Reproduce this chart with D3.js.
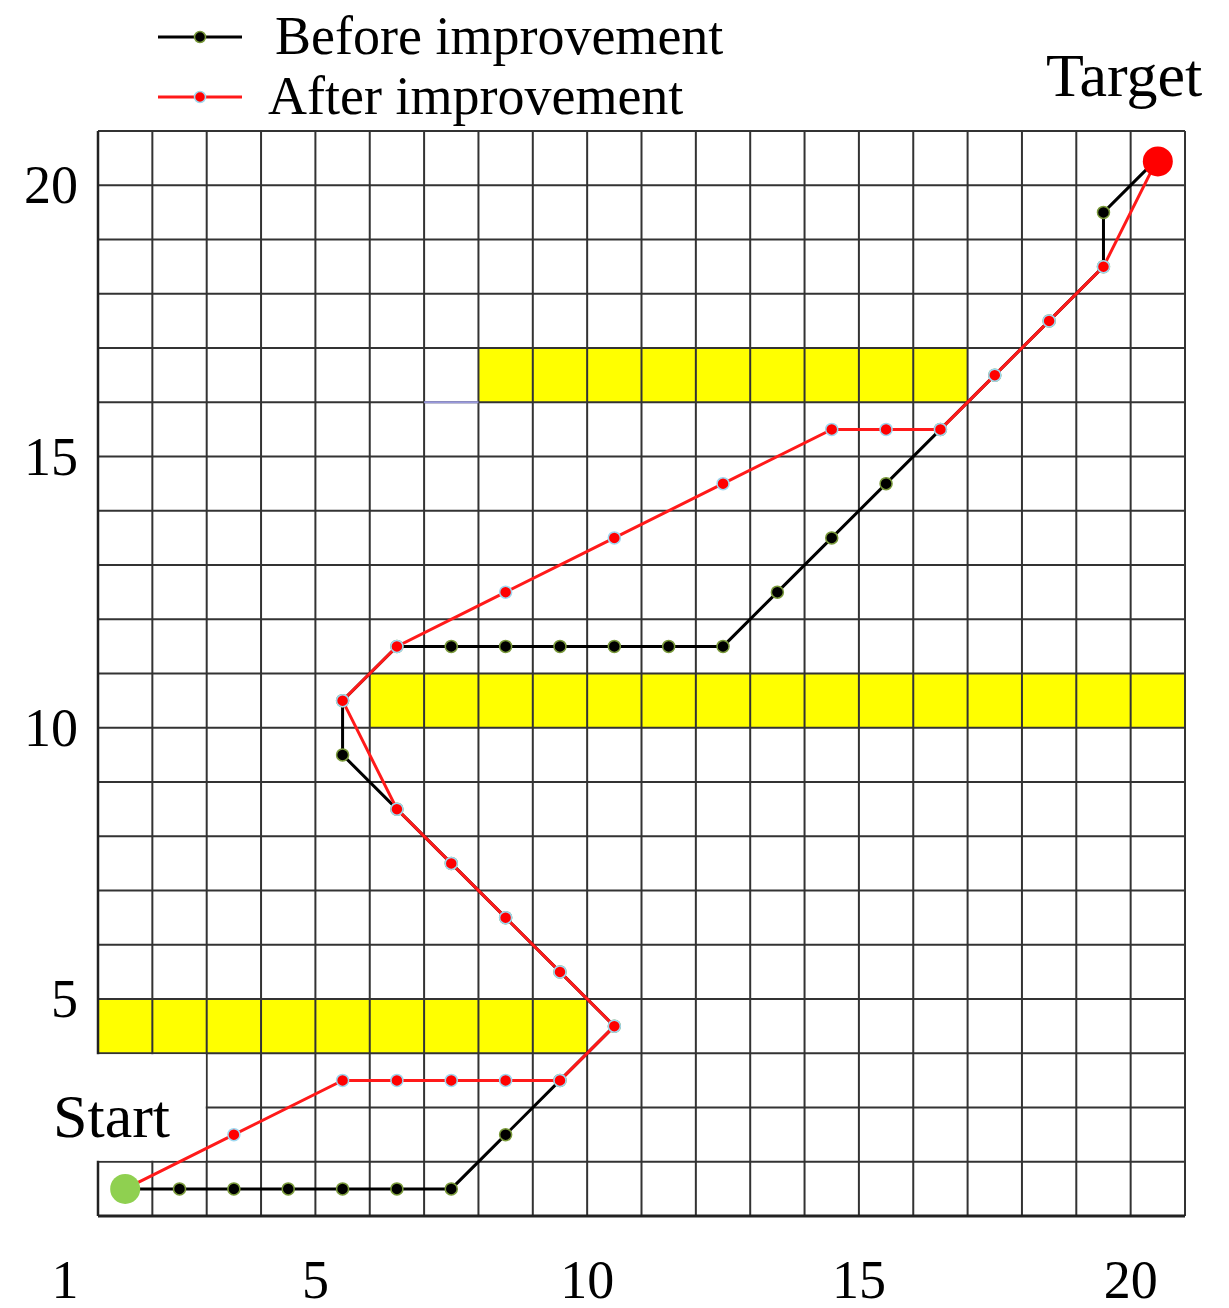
<!DOCTYPE html>
<html><head><meta charset="utf-8">
<script src="https://cdn.jsdelivr.net/npm/d3@7"></script>
<style>body{margin:0;background:#fff}svg{display:block}</style>
</head><body>
<svg width="1229" height="1308"></svg>
<script>
// path cells (x, y) at cell centres
var beforePath = [[1.5,1.5],[2.5,1.5],[3.5,1.5],[4.5,1.5],[5.5,1.5],[6.5,1.5],[7.5,1.5],[8.5,2.5],[9.5,3.5],
  [10.5,4.5],[9.5,5.5],[8.5,6.5],[7.5,7.5],[6.5,8.5],[5.5,9.5],[5.5,10.5],[6.5,11.5],[7.5,11.5],[8.5,11.5],
  [9.5,11.5],[10.5,11.5],[11.5,11.5],[12.5,11.5],[13.5,12.5],[14.5,13.5],[15.5,14.5],[16.5,15.5],[17.5,16.5],
  [18.5,17.5],[19.5,18.5],[19.5,19.5],[20.5,20.5]];
var afterPath = [[1.5,1.5],[3.5,2.5],[5.5,3.5],[6.5,3.5],[7.5,3.5],[8.5,3.5],[9.5,3.5],[10.5,4.5],[9.5,5.5],
  [8.5,6.5],[7.5,7.5],[6.5,8.5],[5.5,10.5],[6.5,11.5],[8.5,12.5],[10.5,13.5],[12.5,14.5],[14.5,15.5],
  [15.5,15.5],[16.5,15.5],[17.5,16.5],[18.5,17.5],[19.5,18.5],[20.5,20.5]];
// obstacles [x0, x1, y0, y1]
var obstacles = [[8,17,16,17],[6,21,10,11],[1,10,4,5]];
var xTicks = [1,5,10,15,20];
var yTicks = [5,10,15,20];

var svg = d3.select("svg");
var x = d3.scaleLinear().domain([1,21]).range([98,1185]);
var y = d3.scaleLinear().domain([1,21]).range([1216,131]);
var serif = "'Liberation Serif','DejaVu Serif',serif";

svg.selectAll(".obs").data(obstacles).enter().append("rect")
  .attr("x", d => x(d[0])).attr("width", d => x(d[1]) - x(d[0]))
  .attr("y", d => y(d[3])).attr("height", d => y(d[2]) - y(d[3]))
  .attr("fill", "#ffff00");

var grid = svg.append("g").attr("stroke", "#333").attr("stroke-width", 2);
d3.range(1,22).forEach(function(v){
  grid.append("line").attr("x1", x(v)).attr("x2", x(v)).attr("y1", y(1)).attr("y2", y(21));
  grid.append("line").attr("y1", y(v)).attr("y2", y(v)).attr("x1", x(1)).attr("x2", x(21));
});
// axes lines
svg.append("line").attr("x1", x(1)).attr("x2", x(21)).attr("y1", y(1)).attr("y2", y(1)).attr("stroke", "#222").attr("stroke-width", 3);
svg.append("line").attr("x1", x(1)).attr("x2", x(1)).attr("y1", y(1)).attr("y2", y(21)).attr("stroke", "#222").attr("stroke-width", 2.5);
// white patch behind "Start"
svg.append("rect").attr("x", x(1) - 2).attr("width", x(3) - x(1) + 1)
  .attr("y", y(4) + 1).attr("height", y(2) - y(4) - 2).attr("fill", "#fff");
svg.append("line").attr("x1", x(7)).attr("x2", x(8)).attr("y1", y(16)).attr("y2", y(16)).attr("stroke", "#9999dd").attr("stroke-width", 2);

var line = d3.line().x(d => x(d[0])).y(d => y(d[1]));
svg.append("path").datum(beforePath).attr("d", line).attr("fill", "none").attr("stroke", "#000").attr("stroke-width", 3);
svg.selectAll(".bd").data(beforePath.slice(1, -1)).enter().append("circle")
  .attr("cx", d => x(d[0])).attr("cy", d => y(d[1])).attr("r", 6)
  .attr("fill", "#000").attr("stroke", "#7a9a3a").attr("stroke-width", 1.5);
svg.append("path").datum(afterPath).attr("d", line).attr("fill", "none").attr("stroke", "#ff1a1a").attr("stroke-width", 3);
svg.selectAll(".ad").data(afterPath.slice(1, -1)).enter().append("circle")
  .attr("cx", d => x(d[0])).attr("cy", d => y(d[1])).attr("r", 6)
  .attr("fill", "#ff0000").attr("stroke", "#9fd8f0").attr("stroke-width", 1.5);

svg.append("circle").attr("cx", x(1.5)).attr("cy", y(1.5)).attr("r", 15).attr("fill", "#8fd050");
svg.append("circle").attr("cx", x(20.5)).attr("cy", y(20.44)).attr("r", 15).attr("fill", "#ff0000");

svg.selectAll(".xt").data(xTicks).enter().append("text")
  .attr("x", d => d === 1 ? 65 : x(d)).attr("y", 1298).attr("text-anchor", "middle")
  .attr("font-family", serif).attr("font-size", 54).text(d => d);
svg.selectAll(".yt").data(yTicks).enter().append("text")
  .attr("x", 78).attr("y", d => y(d) + 18).attr("text-anchor", "end")
  .attr("font-family", serif).attr("font-size", 54).text(d => d);

svg.append("text").attr("x", 53).attr("y", 1137).attr("font-family", serif).attr("font-size", 62).text("Start");
svg.append("text").attr("x", 1046).attr("y", 96).attr("font-family", serif).attr("font-size", 62).text("Target");

var legend = [["Before improvement", "#000", "#7a9a3a", 37, 275], ["After improvement", "#ff1a1a", "#9fd8f0", 97, 268]];
legend.forEach(function(l){
  svg.append("line").attr("x1", 158).attr("x2", 242).attr("y1", l[3]).attr("y2", l[3]).attr("stroke", l[1]).attr("stroke-width", 3);
  svg.append("circle").attr("cx", 200).attr("cy", l[3]).attr("r", 5.5).attr("fill", l[1] === "#000" ? "#000" : "#f00").attr("stroke", l[2]).attr("stroke-width", 1.5);
  svg.append("text").attr("x", l[4]).attr("y", l[3] + 17).attr("font-family", serif).attr("font-size", 54).text(l[0]);
});
</script>
</body></html>
